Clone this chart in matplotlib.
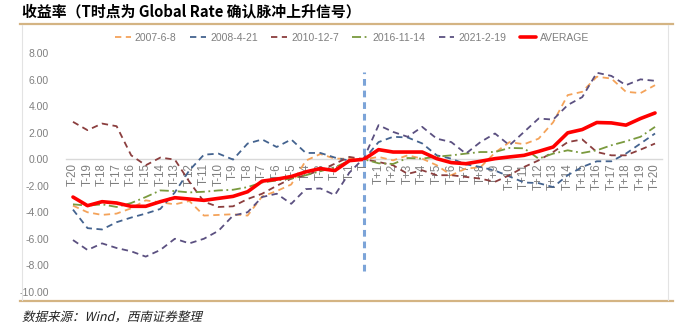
import matplotlib
matplotlib.use("Agg")
import matplotlib.pyplot as plt
from matplotlib.lines import Line2D
from matplotlib.patches import PathPatch
from matplotlib.textpath import TextPath
from matplotlib.font_manager import FontProperties
from matplotlib.transforms import Affine2D, IdentityTransform
from matplotlib.ticker import FormatStrFormatter

plt.rcParams["font.family"] = ["Liberation Sans", "Noto Sans CJK SC", "DejaVu Sans"]

# categories: T-20 ... T ... T+20
labels = [f"T-{k}" for k in range(20, 0, -1)] + ["T"] + [f"T+{k}" for k in range(1, 21)]

s_2007 = [-3.5, -4.0, -4.2, -4.1, -3.7, -3.1, -3.25, -3.4, -3.15, -4.25,
          -4.2, -4.15, -4.25, -2.8, -2.4, -1.9, -0.1, 0.4, 0.05, 0.05,
          0.0,
          0.18, -0.08, 0.3, 0.05, -0.45, -1.2, -0.7, -0.6, 0.5, 1.3,
          1.14, 1.56, 2.8, 4.85, 5.1, 6.24, 6.1, 5.1, 5.0, 5.6]
s_2008 = [-3.8, -5.2, -5.3, -4.75, -4.4, -4.1, -3.75, -2.5, -0.83, 0.35,
          0.43, -0.02, 1.19, 1.5, 0.93, 1.5, 0.48, 0.48, 0.13, -0.1,
          0.0,
          1.3, 1.7, 1.65, 1.2, 0.3, 0.05, -0.38, -0.58, -0.85, -1.3,
          -1.75, -1.8, -2.1, -1.2, -0.58, -0.15, -0.15, 0.43, 1.19, 1.95]
s_2010 = [2.83, 2.2, 2.7, 2.5, 0.3, -0.45, 0.13, -0.02, -1.7, -3.2,
          -3.6, -3.55, -3.0, -2.6, -2.0, -1.46, -1.2, -0.83, -0.33, 0.18,
          0.0,
          -0.2, -0.45, -1.1, -0.83, -1.2, -1.2, -1.33, -1.46, -1.7, -1.2,
          -0.58, -0.08, 0.55, 1.3, 1.5, 0.55, 0.3, 0.3, 0.73, 1.19]
s_2016 = [-3.4, -3.5, -3.4, -3.6, -3.3, -2.85, -2.35, -2.4, -2.5, -2.45,
          -2.35, -2.3, -2.1, -1.75, -1.6, -1.45, -1.2, -0.9, -0.6, -0.1,
          0.0,
          -0.3, -0.35, 0.1, 0.05, 0.2, 0.3, 0.43, 0.55, 0.55, 0.86,
          0.83, 0.05, 0.43, 0.68, 0.48, 0.68, 1.06, 1.36, 1.7, 2.45]
s_2021 = [-6.1, -6.85, -6.35, -6.7, -6.95, -7.35, -6.85, -6.0, -6.35, -6.0,
          -5.4, -4.25, -4.0, -2.85, -2.6, -3.36, -2.25, -2.2, -2.7, -1.0,
          0.1,
          2.58, 2.07, 1.7, 2.45, 1.56, 1.3, 0.43, 1.3, 1.95, 1.06,
          2.07, 3.08, 3.0, 4.1, 4.7, 6.54, 6.3, 5.6, 6.04, 5.93]
s_avg = [-2.85, -3.5, -3.2, -3.3, -3.55, -3.55, -3.2, -2.9, -3.0, -3.1,
         -2.95, -2.8, -2.45, -1.65, -1.5, -1.3, -0.95, -0.7, -0.85, -0.1,
         0.0,
         0.73, 0.55, 0.55, 0.55, 0.05, -0.25, -0.33, -0.15, 0.05, 0.18,
         0.3, 0.6, 0.93, 2.0, 2.25, 2.78, 2.75, 2.58, 3.08, 3.5]

series = [
    ("2007-6-8", s_2007, "#F4A35A", (0, (3.5, 2.5))),
    ("2008-4-21", s_2008, "#44638F", (0, (3.5, 2.5))),
    ("2010-12-7", s_2010, "#8B3E3E", (0, (3.5, 2.5))),
    ("2016-11-14", s_2016, "#7A9A3E", (0, (5, 2, 1, 2))),
    ("2021-2-19", s_2021, "#5B5080", (0, (3.5, 2.5))),
]

W, H = 681, 322
fig = plt.figure(figsize=(W / 100, H / 100), dpi=100)
ax = fig.add_axes([65.7 / W, 1 - 291.7 / H, 596.6 / W, 238.3 / H])

x = list(range(len(labels)))
for name, vals, col, ls in series:
    ax.plot(x, vals, color=col, linestyle=ls, lw=1.3, label=name)
ax.plot(x, s_avg, color="#FF0000", lw=2.6, label="AVERAGE", solid_capstyle="round")

# signal marker at T
ax.vlines(labels.index("T"), -8.4, 6.6, color="#7CA4D8", lw=2.2,
          linestyles=(0, (2.2, 1.6)))

# zero axis sits at y=0, labels hang below it
ax.spines["bottom"].set_position(("data", 0))
ax.set_xlim(-0.5, len(labels) - 0.5)
ax.set_ylim(-10, 8)
ax.set_yticks(range(-10, 9, 2))
ax.yaxis.set_major_formatter(FormatStrFormatter("%.2f"))
ax.set_xticks(x)
ax.set_xticklabels(labels)

for side in ["top", "right", "left"]:
    ax.spines[side].set_visible(False)
ax.spines["bottom"].set_color("#D9D9D9")
ax.spines["bottom"].set_linewidth(1.0)
ax.spines["bottom"].set_zorder(0)
ax.tick_params(axis="both", length=0, labelsize=7.5, labelcolor="#7F7F7F")
ax.tick_params(axis="y", pad=12)
ax.tick_params(axis="x", pad=3, labelrotation=90, labelsize=8.3)

fig.legend(loc="center", bbox_to_anchor=(352 / W, 1 - 38 / H), ncol=6,
           frameon=False, fontsize=7.5, handlelength=1.5, handletextpad=0.4,
           columnspacing=1.3, labelcolor="#7F7F7F")

# chart frame
gold = "#D4B483"
fig.add_artist(Line2D([20 / W, 673 / W], [1 - 24 / H, 1 - 24 / H], color=gold, lw=1.6))
fig.add_artist(Line2D([20 / W, 673 / W], [1 - 301 / H, 1 - 301 / H], color=gold, lw=1.6))
for xf in [21.5, 668]:
    fig.add_artist(Line2D([xf / W, xf / W], [1 - 25 / H, 1 - 300 / H], color="#E3E3E3", lw=0.8))

fig.text(22 / W, 1 - 11 / H, "收益率（T时点为 Global Rate 确认脉冲上升信号）",
         fontsize=10.7, fontweight="bold", va="center", ha="left",
         family=["Noto Sans CJK SC", "DejaVu Sans"])

# italic-looking source note (CJK fonts have no italic face)
tp = TextPath((0, 0), "数据来源：Wind，西南证券整理", size=12.5,
              prop=FontProperties(family="Noto Sans CJK SC"))
foot = PathPatch(tp, color="#222222", lw=0,
                 transform=Affine2D().skew_deg(14, 0).translate(22, H - 321) + IdentityTransform())
fig.add_artist(foot)

fig.savefig("out.png", dpi=100)
